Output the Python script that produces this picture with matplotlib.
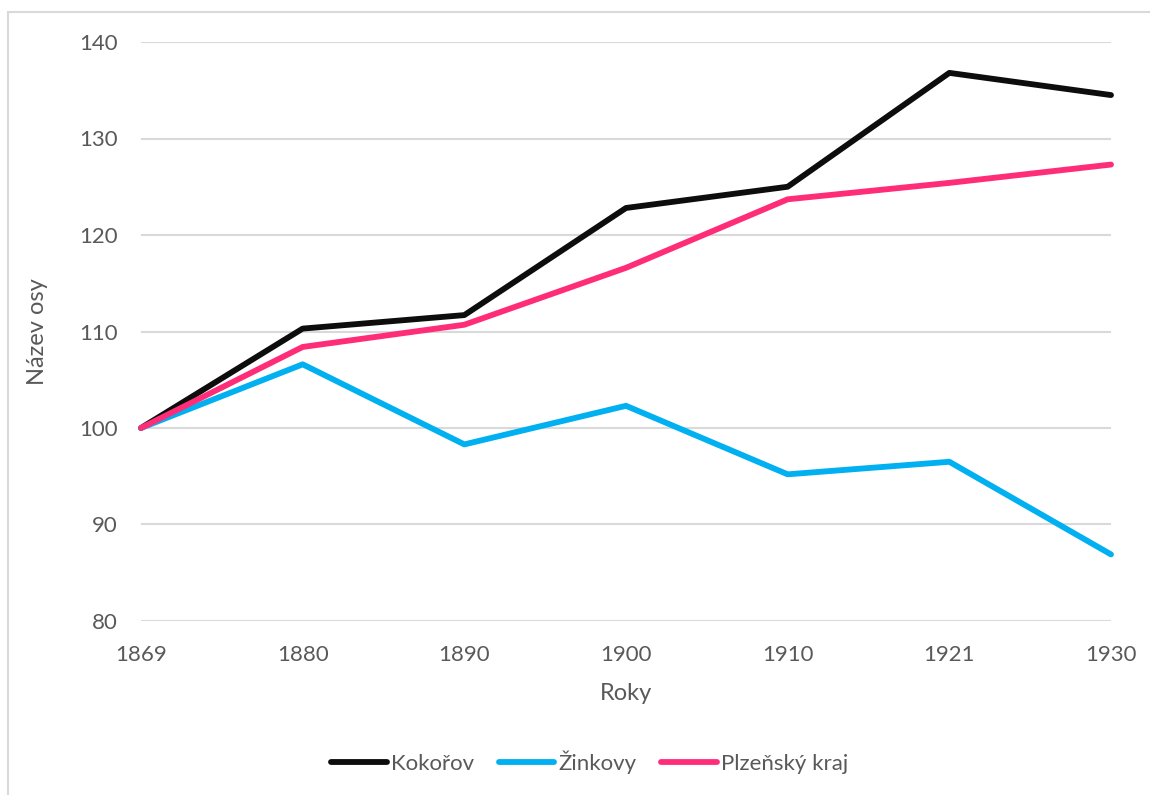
import matplotlib.pyplot as plt
from matplotlib.patches import Rectangle

years = ['1869', '1880', '1890', '1900', '1910', '1921', '1930']
kokorov = [100, 110.3, 111.7, 122.8, 125.0, 136.8, 134.5]
zinkovy = [100, 106.6, 98.3, 102.3, 95.2, 96.5, 86.9]
plzensky = [100, 108.4, 110.7, 116.6, 123.7, 125.4, 127.3]

series_names = ['Kokořov', 'Žinkovy', 'Plzeňský kraj']
series_colors = ['#0d0d0d', '#00b0f0', '#ff2d78']

plt.rcParams['font.family'] = ['Lato', 'DejaVu Sans']
text_color = '#595959'

fig = plt.figure(figsize=(11.5, 7.95), dpi=100)
ax = fig.add_axes([141 / 1150, 1 - 621 / 795, (1111 - 141) / 1150, (621 - 42) / 795])

# light border around the chart area (cropped on the right and bottom)
fig.patches.append(Rectangle((8 / 1150, -0.1), 1.2, 1 - 12 / 795 + 0.1,
                             transform=fig.transFigure, fill=False,
                             edgecolor='#d9d9d9', linewidth=1.5))

x = list(range(len(years)))
for vals, name, col in zip([kokorov, zinkovy, plzensky], series_names, series_colors):
    ax.plot(x, vals, color=col, linewidth=4.2, label=name, solid_capstyle='round',
            solid_joinstyle='round', clip_on=False)

ax.set_xlim(0, len(years) - 1)
ax.set_ylim(80, 140)
ax.set_yticks(range(80, 141, 10))
ax.set_xticks(x)
ax.set_xticklabels(years)
ax.grid(axis='y', color='#d9d9d9', linewidth=1.5)
ax.set_axisbelow(True)
for s in ax.spines.values():
    s.set_visible(False)
ax.tick_params(length=0, labelsize=16, labelcolor=text_color)
ax.tick_params(axis='y', pad=17)
ax.tick_params(axis='x', pad=17)

ax.set_xlabel('Roky', fontsize=17, color=text_color, labelpad=13)
ax.set_ylabel('Název osy', fontsize=17, color=text_color, labelpad=22)

fig.legend(*ax.get_legend_handles_labels(), loc='center',
           bbox_to_anchor=(590 / 1150, 1 - 762 / 795), ncol=3,
           frameon=False, fontsize=16, labelcolor=text_color, handlelength=2.5,
           handletextpad=0.2, columnspacing=1.1)

fig.savefig('out.png', dpi=100, facecolor='white')
